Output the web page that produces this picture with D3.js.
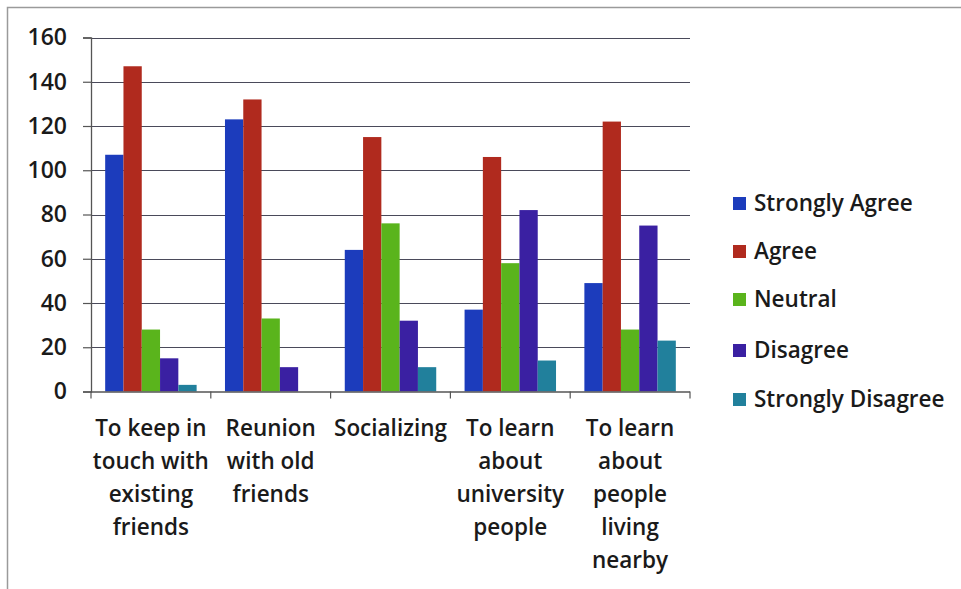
<!DOCTYPE html>
<html>
<head>
<meta charset="utf-8">
<script src="https://cdn.jsdelivr.net/npm/d3@7"></script>
<style>
  html, body { margin: 0; padding: 0; background: #fff; }
  svg { display: block; }
  text { font-family: "Open Sans", Lato, sans-serif; font-weight: 600; fill: #1a1a1a; }
</style>
</head>
<body>
<svg id="chart" width="961" height="589"></svg>
<script>
const categories = [
  ["To keep in", "touch with", "existing", "friends"],
  ["Reunion", "with old", "friends"],
  ["Socializing"],
  ["To learn", "about", "university", "people"],
  ["To learn", "about", "people", "living", "nearby"]
];
const seriesNames = ["Strongly Agree", "Agree", "Neutral", "Disagree", "Strongly Disagree"];
const seriesColors = ["#1c3cbc", "#b02a1e", "#5ab41c", "#3a20a2", "#21809c"];
const stronglyAgree = [107, 123, 64, 37, 49];
const agree = [147, 132, 115, 106, 122];
const neutral = [28, 33, 76, 58, 28];
const disagree = [15, 11, 32, 82, 75];
const stronglyDisagree = [3, 0, 11, 14, 23];
const yTicks = [0, 20, 40, 60, 80, 100, 120, 140, 160];

const series = [stronglyAgree, agree, neutral, disagree, stronglyDisagree];

const svg = d3.select("#chart");

// outer frame
svg.append("path")
  .attr("d", "M7.5,589 L7.5,7.5 L961,7.5")
  .attr("fill", "none").attr("stroke", "#9a9a9a").attr("stroke-width", 1.5);

const pLeft = 91, pRight = 690, pTop = 37.5, pBottom = 391.5;

const x0 = d3.scaleBand().domain(d3.range(categories.length)).range([pLeft, pRight]).paddingInner(0).paddingOuter(0);
const y = d3.scaleLinear().domain([0, 160]).range([pBottom, pTop]);

// gridlines
svg.append("g").selectAll("line").data(yTicks.filter(d => d > 0)).join("line")
  .attr("x1", pLeft).attr("x2", pRight)
  .attr("y1", d => Math.round(y(d)) + 0.5).attr("y2", d => Math.round(y(d)) + 0.5)
  .attr("stroke", "#4a4a5a").attr("stroke-width", 1.2);

// bars
const bw = x0.bandwidth();
const barW = bw / (5 + 1.55);
const gap = (bw - 5 * barW) / 2;
const x1 = d3.scaleBand().domain(d3.range(5)).range([gap, bw - gap]).padding(0);

const gBars = svg.append("g");
series.forEach((vals, si) => {
  gBars.selectAll(null).data(vals).join("rect")
    .attr("x", (d, i) => x0(i) + x1(si))
    .attr("width", x1.bandwidth())
    .attr("y", d => y(d))
    .attr("height", d => y(0) - y(d))
    .attr("fill", seriesColors[si]);
});

// y axis
const yAxis = d3.axisLeft(y).tickValues(yTicks).tickSize(8).tickPadding(16).tickFormat(d3.format("d"));
const gy = svg.append("g").attr("transform", `translate(${pLeft},0)`).call(yAxis);
gy.select(".domain").attr("stroke", "#555").attr("stroke-width", 1.3);
gy.selectAll(".tick line").attr("stroke", "#555").attr("stroke-width", 1.2);
gy.selectAll(".tick text").style("font-size", "23px").attr("fill", "#1a1a1a")
  .style("font-family", "'Open Sans', sans-serif").style("font-weight", 600);

// x axis line + ticks at boundaries
const gx = svg.append("g");
gx.append("line").attr("x1", pLeft).attr("x2", pRight).attr("y1", pBottom + 0.5).attr("y2", pBottom + 0.5)
  .attr("stroke", "#555").attr("stroke-width", 1.3);
const bounds = d3.range(categories.length + 1).map(i => i < categories.length ? x0(i) : x0(categories.length - 1) + bw);
gx.selectAll("line.tk").data(bounds).join("line").attr("class", "tk")
  .attr("x1", d => d).attr("x2", d => d).attr("y1", pBottom).attr("y2", pBottom + 7)
  .attr("stroke", "#555").attr("stroke-width", 1.2);

// category labels
categories.forEach((lines, i) => {
  const t = svg.append("text")
    .attr("text-anchor", "middle")
    .attr("x", x0(i) + bw / 2)
    .style("font-size", "22.5px");
  lines.forEach((ln, j) => {
    t.append("tspan").attr("x", x0(i) + bw / 2).attr("y", 436 + j * 33).text(ln);
  });
});

// legend
const lg = svg.append("g");
const legendY = [203, 251, 299, 350, 399];
seriesNames.forEach((name, i) => {
  lg.append("rect").attr("x", 733).attr("y", legendY[i] - 6).attr("width", 13).attr("height", 13)
    .attr("fill", seriesColors[i]);
  lg.append("text").attr("x", 754).attr("y", legendY[i]).attr("dy", "0.35em")
    .style("font-size", "22.5px").text(name);
});
</script>
</body>
</html>
